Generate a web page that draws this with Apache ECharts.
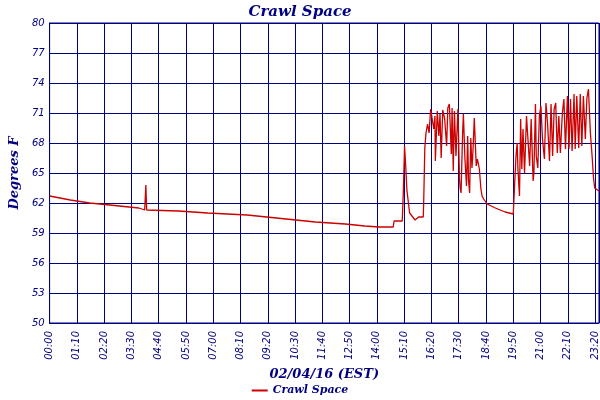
<!DOCTYPE html>
<html><head><meta charset="utf-8">
<script src="https://cdn.jsdelivr.net/npm/echarts@6/dist/echarts.min.js"></script>
<style>html,body{margin:0;padding:0;background:#fff}#c{width:600px;height:400px}</style>
</head><body><div id="c"></div>
<script>
const seriesName = "Crawl Space";
const minutes = [0,53,103,154,229,244,247,249,330,406,507,582,632,682,759,809,846,
858,882,884,905,908,911,914,917,924,938,947,959,960,963,966,970,974,978,980,986,989,990,995,999,1002,1005,1009,1014,1019,1022,1026,1031,1033,1036,1039,1043,1048,1052,1054,1056,1060,1062,1066,1070,1073,1075,1078,1081,1084,1086,1090,1095,1098,1103,1107,1110,1114,1123,1144,1169,1190,1195,1197,1200,1202,1206,1209,1212,1215,1219,1224,1228,1232,1236,1241,1243,1247,1249,1253,1257,1261,1265,1270,1274,1278,1283,1287,1291,1295,1299,1303,1307,1311,1316,1320,1324,1329,1333,1337,1341,1346,1349,1353,1358,1362,1366,1370,1375,1379,1383,1388,1392,1396,1399,1404,1410];
const temps = [62.7,62.3,62.0,61.8,61.5,61.3,63.8,61.3,61.2,61.0,60.8,60.5,60.3,60.1,59.9,59.7,59.6,
59.6,59.6,60.2,60.2,63.3,67.7,65.7,63.3,61.0,60.3,60.6,60.6,61.9,67.5,69.0,69.9,69.0,71.4,71.4,69.4,70.7,66.2,71.2,68.7,70.9,66.5,71.3,70.4,67.7,71.5,71.9,66.9,71.5,65.2,71.2,66.7,71.4,64.4,63.4,63.0,69.0,70.9,66.4,63.7,68.7,64.4,63.0,68.5,65.5,66.7,70.5,65.7,66.4,65.4,63.4,62.7,62.4,61.9,61.5,61.1,60.9,61.0,66.7,68.0,65.4,62.7,70.4,65.4,69.4,65.0,70.7,70.9,65.7,70.4,64.2,65.0,71.9,66.7,65.5,70.7,71.7,68.4,66.4,72.0,70.0,66.2,71.9,66.7,71.4,72.0,67.0,70.7,67.0,71.0,72.4,67.4,72.7,67.4,72.4,67.2,72.9,67.4,72.7,67.5,72.9,67.7,72.7,68.4,72.5,73.4,69.0,66.9,64.5,63.5,63.3,63.2];
const yTicks = [50,53,56,59,62,65,68,71,74,77,80];
const xTicks = [0,70,140,210,280,350,420,490,560,630,700,770,840,910,980,1050,1120,1190,1260,1330,1400,1410];
const lastLabel = "23:59";
const xTitle = "02/04/16 (EST)";
const yTitle = "Degrees F";

const navy = '#000080';
const X_MAX = 1410;
const fmt = v => { if (v >= X_MAX) return lastLabel; const h = Math.floor(v/60), m = Math.round(v%60); return String(h).padStart(2,'0') + ':' + String(m).padStart(2,'0'); };
const chart = echarts.init(document.getElementById('c'));
chart.setOption({
  animation:false,
  title:{text:seriesName,left:'center',top:0,textStyle:{color:navy,fontFamily:'DejaVu Serif',fontStyle:'italic',fontWeight:'bold',fontSize:15}},
  grid:{left:39,right:1,top:23,bottom:77,show:true,borderColor:navy,borderWidth:1},
  legend:{bottom:-1,left:'center',itemWidth:16,itemHeight:2,icon:'rect',textStyle:{color:navy,fontFamily:'DejaVu Serif',fontStyle:'italic',fontWeight:'bold',fontSize:11},data:[seriesName]},
  xAxis:{type:'value',min:0,max:X_MAX,interval:70,
    name:xTitle,nameLocation:'middle',nameGap:37,nameTextStyle:{color:navy,fontFamily:'DejaVu Serif',fontStyle:'italic',fontWeight:'bold',fontSize:13},
    axisLine:{lineStyle:{color:navy}},axisTick:{show:false},
    splitLine:{lineStyle:{color:navy,width:1}},
    axisLabel:{rotate:90,color:navy,fontStyle:'italic',fontSize:10,fontFamily:'DejaVu Sans',formatter:fmt,customValues:xTicks,hideOverlap:false}},
  yAxis:{type:'value',min:50,max:80,interval:3,
    name:yTitle,nameLocation:'middle',nameGap:24,nameTextStyle:{color:navy,fontFamily:'DejaVu Serif',fontStyle:'italic',fontWeight:'bold',fontSize:13},
    axisLine:{show:true,lineStyle:{color:navy}},axisTick:{show:false},
    splitLine:{lineStyle:{color:navy,width:1}},
    axisLabel:{color:navy,fontStyle:'italic',fontSize:10,fontFamily:'DejaVu Sans',margin:5,customValues:yTicks}},
  series:[{name:seriesName,type:'line',symbol:'none',color:'#cc0000',lineStyle:{width:1.3},
    data:minutes.map((m,i)=>[m,temps[i]])}]
});
</script></body></html>
